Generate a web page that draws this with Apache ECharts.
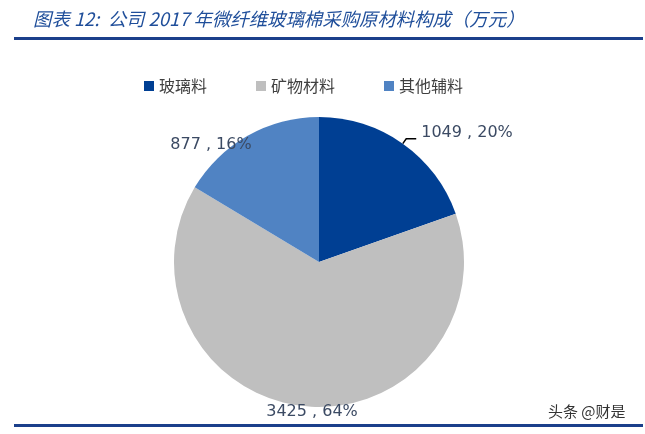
<!DOCTYPE html>
<html>
<head>
    <meta charset="utf-8"/>
    <title>公司2017年微纤维玻璃棉采购原材料构成</title>
    <script src="https://cdn.jsdelivr.net/npm/echarts@6/dist/echarts.min.js"></script>
    <style>
        html, body { margin: 0; padding: 0; background: #fff; }
        #main { width: 645px; height: 434px; }
    </style>
</head>
<body>
<div id="main"></div>
<script>
    // 数据
    var categories = ['玻璃料', '矿物材料', '其他辅料'];
    var values = [1049, 3425, 877];
    var colors = ['#003F93', '#BFBFBF', '#5083C3'];

    var total = values.reduce(function (a, b) { return a + b; }, 0);
    var pieData = categories.map(function (name, i) {
        return {
            name: name,
            value: values[i],
            itemStyle: { color: colors[i] },
            labelLine: { show: i === 0 }
        };
    });

    // 标签位置（Excel 最佳匹配位置）
    var labelAt = { 1: [312, 412], 2: [211, 145] };

    var chart = echarts.init(document.getElementById('main'));
    var option = {
        animation: false,
        title: {
            text: '图表 12:  公司 2017 年微纤维玻璃棉采购原材料构成（万元）',
            left: 28,
            top: 5,
            textStyle: {
                color: '#1F4E9A',
                fontSize: 18.4,
                fontStyle: 'italic',
                fontWeight: 'normal',
                fontFamily: 'Noto Sans CJK SC'
            }
        },
        legend: {
            data: categories,
            left: 139,
            top: 73,
            itemWidth: 10,
            itemHeight: 10,
            itemGap: 49,
            icon: 'rect',
            textStyle: {
                color: '#404040',
                fontSize: 16,
                fontFamily: 'Noto Sans CJK SC'
            }
        },
        graphic: [
            { type: 'rect', shape: { x: 14, y: 37, width: 629, height: 3 }, style: { fill: '#1B3F8B' } },
            { type: 'rect', shape: { x: 14, y: 424, width: 629, height: 3 }, style: { fill: '#1B3F8B' } },
            {
                type: 'text', left: 548, top: 404,
                style: { text: '头条 @财是', fill: '#333', fontSize: 15, fontFamily: 'Noto Sans CJK SC' }
            }
        ],
        series: [{
            type: 'pie',
            center: [319, 262],
            radius: 145,
            startAngle: 90,
            clockwise: true,
            data: pieData,
            label: {
                show: true,
                position: 'outside',
                color: '#3B4A63',
                fontSize: 16,
                fontFamily: 'Verdana, DejaVu Sans, sans-serif',
                formatter: function (p) {
                    return p.value + ' , ' + Math.round(p.value / total * 100) + '%';
                }
            },
            labelLine: {
                length: 6,
                length2: 10,
                lineStyle: { color: '#000', width: 1.5 }
            },
            labelLayout: function (p) {
                var pos = labelAt[p.dataIndex];
                if (!pos) return { dy: -6 };
                return { x: pos[0], y: pos[1], align: 'center', verticalAlign: 'middle' };
            }
        }]
    };
    chart.setOption(option);
</script>
</body>
</html>
